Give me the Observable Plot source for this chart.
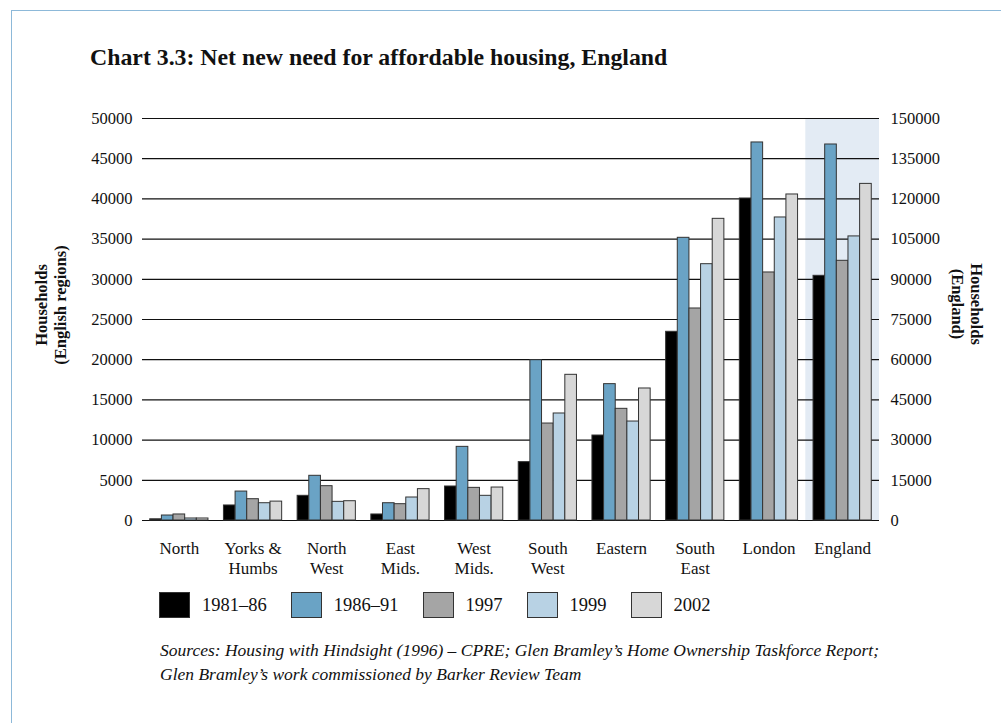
<!DOCTYPE html>
<html><head><meta charset="utf-8">
<script src="https://cdn.jsdelivr.net/npm/d3@7"></script>
<script src="https://cdn.jsdelivr.net/npm/@observablehq/plot@0.6"></script>
<style>
body{margin:0;background:#fff;font-family:"Liberation Serif","DejaVu Serif",serif;color:#111;}
#page{position:relative;width:1001px;height:723px;overflow:hidden;}
#border{position:absolute;left:11px;top:10px;right:-20px;bottom:-20px;border-left:1.5px solid #8db9d9;border-top:1.5px solid #8db9d9;}
#title{position:absolute;left:90px;top:44px;font-weight:bold;font-size:23.8px;white-space:nowrap;}
#chart{position:absolute;left:0;top:0;}
.ytitle{position:absolute;font-weight:bold;font-size:16.5px;text-align:center;line-height:19px;white-space:nowrap;}
#ylt{left:51px;top:305px;transform:translate(-50%,-50%) rotate(-90deg);}
#yrt{left:967px;top:304px;transform:translate(-50%,-50%) rotate(90deg);}
#legend{position:absolute;left:159px;top:592px;display:flex;align-items:center;font-size:18.5px;}
.item{display:flex;align-items:center;margin-right:24px;}
.sw{width:29px;height:24px;border:1px solid #333;margin-right:12px;}
#source{position:absolute;left:160px;top:638px;font-style:italic;font-size:17.5px;line-height:24px;white-space:nowrap;}
</style></head>
<body><div id="page">
<div id="border"></div>
<div id="title">Chart 3.3: Net new need for affordable housing, England</div>
<div id="chart"></div>
<div class="ytitle" id="ylt">Households<br>(English regions)</div>
<div class="ytitle" id="yrt">Households<br>(England)</div>
<div id="legend"></div>
<div id="source">Sources: Housing with Hindsight (1996) – CPRE; Glen Bramley’s Home Ownership Taskforce Report;<br>Glen Bramley’s work commissioned by Barker Review Team</div>
</div>
<script>
const regions = ["North","Yorks & Humbs","North West","East Mids.","West Mids.","South West","Eastern","South East","London","England"];
const regionLabels = ["North","Yorks &\nHumbs","North\nWest","East\nMids.","West\nMids.","South\nWest","Eastern","South\nEast","London","England"];
const series = ["1981–86","1986–91","1997","1999","2002"];
const colors = ["#000000","#6aa3c5","#a5a5a5","#b8d2e4","#d7d7d7"];
// Regions in households (left axis); England in households (right axis)
const v1981_86 = [150,1870,3070,750,4230,7260,10570,23470,40050,91300];
const v1986_91 = [620,3600,5560,2150,9160,19940,16960,35160,47020,140300];
const v1997    = [750,2650,4270,2030,4060,12060,13890,26370,30850,96900];
const v1999    = [250,2150,2320,2860,3070,13310,12310,31880,37690,106000];
const v2002    = [250,2350,2400,3900,4100,18120,16420,37520,40550,125600];
const leftTicks = d3.range(0, 50001, 5000);
const leftMax = 50000, rightMax = 150000;
const ratio = rightMax / leftMax;
const rightRegion = "England";

const seriesValues = [v1981_86, v1986_91, v1997, v1999, v2002];
const rows = [];
series.forEach((s, i) => regions.forEach((r, j) => {
  const value = seriesValues[i][j];
  rows.push({region: r, series: s, value, plotted: r === rightRegion ? value / ratio : value});
}));

const W = 1001, H = 590, mL = 142, mR = 122, mT = 118, mB = 70;
const padIn = 0.21, padOut = 0.105;
const band = d3.scaleBand().domain(regions).range([mL, W - mR]).paddingInner(padIn).paddingOuter(padOut);
const bw = band.bandwidth() / series.length;
const halfGap = (band.step() - band.bandwidth()) / 2;

const chart = Plot.plot({
  width: W, height: H, marginLeft: mL, marginRight: mR, marginTop: mT, marginBottom: mB,
  style: {fontFamily: '"Liberation Serif", serif', fontSize: "16px", color: "#111", background: "transparent"},
  x: {type: "band", domain: regions, paddingInner: padIn, paddingOuter: padOut, round: false, axis: null},
  y: {domain: [0, leftMax], axis: null},
  marks: [
    Plot.barY([rightRegion], {x: d => d, y1: () => 0, y2: () => leftMax, fill: "#e3ebf4", insetLeft: -halfGap, insetRight: -halfGap}),
    Plot.ruleY(leftTicks, {stroke: "#111", strokeWidth: 1.2}),
    ...series.map((s, i) => Plot.barY(rows.filter(r => r.series === s), {
      x: "region", y: "plotted", fill: colors[i], stroke: "#333", strokeWidth: 1,
      insetLeft: i * bw, insetRight: (series.length - 1 - i) * bw
    })),
    Plot.axisY({ticks: leftTicks, anchor: "left", tickSize: 0, tickPadding: 10, label: null, tickFormat: d => String(d), fontSize: 16.5}),
    Plot.axisY({ticks: leftTicks, anchor: "right", tickSize: 0, tickPadding: 11, label: null, tickFormat: d => String(d * ratio), fontSize: 16.5}),
    Plot.text(regions, {x: d => d, text: (d, i) => regionLabels[i], frameAnchor: "bottom", dy: 19, lineAnchor: "top", lineHeight: 1.2, fontSize: 17, fill: "#111"})
  ]
});
document.getElementById("chart").appendChild(chart);

const legend = document.getElementById("legend");
series.forEach((s, i) => {
  const it = document.createElement("div"); it.className = "item";
  const sw = document.createElement("div"); sw.className = "sw"; sw.style.background = colors[i];
  const t = document.createElement("span"); t.textContent = s;
  it.appendChild(sw); it.appendChild(t); legend.appendChild(it);
});
</script>
</body></html>
